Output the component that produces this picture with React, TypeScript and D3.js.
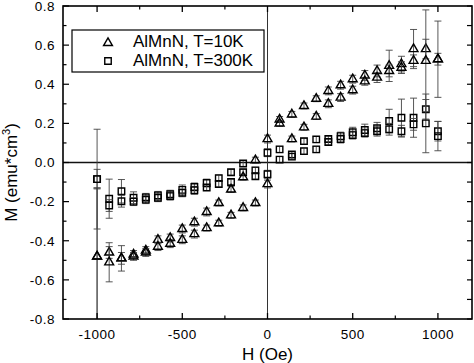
import React from 'react';
import * as d3 from 'd3';

// applied field (Oe)
const fieldOe = [
  -1000, -929, -857, -786, -714, -643, -571, -500, -429, -357, -286, -214, -143, -71, 0,
  71, 143, 214, 286, 357, 429, 500, 571, 643, 714, 786, 857, 929, 1000,
];

// T = 10K, two branches of the loop
const m10Upper = [
  -0.48, -0.46, -0.49, -0.47, -0.45, -0.395, -0.386, -0.34, -0.305, -0.253, -0.207, -0.138, -0.075, 0.012, 0.12,
  0.22, 0.246, 0.289, 0.326, 0.366, 0.395, 0.426, 0.445, 0.468, 0.494, 0.503, 0.58, 0.58, 0.528,
];
const m10Lower = [
  -0.48, -0.51, -0.49, -0.48, -0.46, -0.43, -0.415, -0.395, -0.366, -0.335, -0.31, -0.27, -0.232, -0.207, -0.11,
  0.2, 0.12, 0.18, 0.235, 0.3, 0.332, 0.37, 0.415, 0.434, 0.468, 0.485, 0.52, 0.52, 0.528,
];
const e10Upper = [
  0.35, 0.03, 0.065, 0.02, 0.02, 0.02, 0.02, 0.02, 0.02, 0.02, 0.015, 0.015, 0.015, 0.015, 0.02,
  0.015, 0.015, 0.015, 0.015, 0.02, 0.02, 0.02, 0.025, 0.03, 0.08, 0.04, 0.1, 0.05, 0.195,
];
const e10Lower = [
  0.35, 0.1, 0.03, 0.02, 0.02, 0.02, 0.02, 0.02, 0.02, 0.015, 0.015, 0.015, 0.015, 0.015, 0.02,
  0.015, 0.015, 0.015, 0.015, 0.02, 0.02, 0.02, 0.02, 0.025, 0.03, 0.03, 0.03, 0.26, 0.03,
];

// T = 300K, two branches of the loop
const m300Upper = [
  -0.085, -0.185, -0.147, -0.18, -0.178, -0.168, -0.162, -0.14, -0.125, -0.105, -0.08, -0.05, -0.005, -0.04, 0.05,
  0.067, 0.041, 0.109, 0.118, 0.12, 0.135, 0.155, 0.166, 0.175, 0.212, 0.229, 0.229, 0.272, 0.16,
];
const m300Lower = [
  -0.085, -0.22, -0.198, -0.2, -0.19, -0.18, -0.172, -0.155, -0.142, -0.128, -0.11, -0.1, -0.05, -0.07, -0.06,
  0.015, 0.03, 0.058, 0.067, 0.105, 0.12, 0.14, 0.15, 0.16, 0.17, 0.16, 0.195, 0.2, 0.135,
];
const e300Upper = [
  0.255, 0.1, 0.06, 0.03, 0.02, 0.02, 0.02, 0.025, 0.02, 0.02, 0.015, 0.015, 0.015, 0.015, 0.02,
  0.015, 0.015, 0.015, 0.015, 0.015, 0.02, 0.025, 0.03, 0.03, 0.06, 0.095, 0.1, 0.05, 0.05,
];
const e300Lower = [
  0.05, 0.03, 0.03, 0.02, 0.02, 0.02, 0.02, 0.02, 0.02, 0.015, 0.015, 0.015, 0.015, 0.015, 0.02,
  0.015, 0.015, 0.015, 0.015, 0.015, 0.02, 0.02, 0.02, 0.025, 0.03, 0.03, 0.03, 0.15, 0.075,
];

const xMajor = [-1000, -500, 0, 500, 1000];
const yMajor = [-0.8, -0.6, -0.4, -0.2, 0.0, 0.2, 0.4, 0.6, 0.8];
const legendLabels = ['AlMnN, T=10K', 'AlMnN, T=300K'];

const font = 'Arial, "Liberation Sans", Helvetica, sans-serif';

export default function App() {
  const width = 474;
  const height = 363;
  const x = d3.scaleLinear().domain([-1200, 1200]).range([63, 472]);
  const y = d3.scaleLinear().domain([-0.8, 0.8]).range([319, 6]);

  const triPath = d3.symbol().type(d3.symbolTriangle).size(34)() as string;
  const sqPath = d3.symbol().type(d3.symbolSquare).size(42)() as string;

  const xMinor = d3.range(-1000, 1001, 250).filter(v => !xMajor.includes(v));
  const yAll = d3.range(-8, 9).map(v => v / 10);

  const series = [
    { m: m300Upper, e: e300Upper, path: sqPath },
    { m: m300Lower, e: e300Lower, path: sqPath },
    { m: m10Upper, e: e10Upper, path: triPath },
    { m: m10Lower, e: e10Lower, path: triPath },
  ];

  const [x0, x1] = x.range();
  const [y0, y1] = y.range();

  return (
    <svg width={width} height={height} style={{ position: 'absolute', left: 0, top: 0, background: '#fff' }}
      fontFamily={font}>
      <defs>
        <clipPath id="plot">
          <rect x={x0} y={y1} width={x1 - x0} height={y0 - y1} />
        </clipPath>
      </defs>

      {/* zero lines */}
      <line x1={x0} x2={x1} y1={y(0)} y2={y(0)} stroke="#111" strokeWidth={1.3} />
      <line x1={x(0)} x2={x(0)} y1={y1} y2={y0} stroke="#333" strokeWidth={1} />

      {/* error bars + markers */}
      <g clipPath="url(#plot)">
        {series.map((s, si) => (
          <g key={si}>
            {fieldOe.map((h, i) => {
              const cx = x(h);
              const top = y(s.m[i] + s.e[i]);
              const bot = y(s.m[i] - s.e[i]);
              return (
                <g key={i} stroke="#444" strokeWidth={0.9}>
                  <line x1={cx} x2={cx} y1={top} y2={bot} />
                  <line x1={cx - 3.5} x2={cx + 3.5} y1={top} y2={top} />
                  <line x1={cx - 3.5} x2={cx + 3.5} y1={bot} y2={bot} />
                </g>
              );
            })}
            {fieldOe.map((h, i) => (
              <path key={'p' + i} d={s.path} transform={`translate(${x(h)},${y(s.m[i])})`}
                fill="none" stroke="#000" strokeWidth={1.4} />
            ))}
          </g>
        ))}
      </g>

      {/* frame */}
      <rect x={x0} y={y1} width={x1 - x0} height={y0 - y1} fill="none" stroke="#000" strokeWidth={1.6} />

      {/* x ticks */}
      {xMajor.map(v => (
        <g key={'xm' + v} stroke="#000" strokeWidth={1.3}>
          <line x1={x(v)} x2={x(v)} y1={y0} y2={y0 - 6} />
          <line x1={x(v)} x2={x(v)} y1={y1} y2={y1 + 6} />
        </g>
      ))}
      {xMinor.map(v => (
        <g key={'xn' + v} stroke="#000" strokeWidth={1.2}>
          <line x1={x(v)} x2={x(v)} y1={y0} y2={y0 - 3.5} />
          <line x1={x(v)} x2={x(v)} y1={y1} y2={y1 + 3.5} />
        </g>
      ))}
      {xMajor.map(v => (
        <text key={'xl' + v} x={x(v)} y={339} textAnchor="middle" fontSize={13.5} letterSpacing={0.5}>
          {String(v)}
        </text>
      ))}

      {/* y ticks */}
      {yAll.map(v => {
        const major = yMajor.some(m => Math.abs(m - v) < 1e-9);
        return (
          <g key={'y' + v} stroke="#000" strokeWidth={1.2}>
            <line x1={x0} x2={x0 + (major ? 6 : 3.5)} y1={y(v)} y2={y(v)} />
            <line x1={x1} x2={x1 - 5} y1={y(v)} y2={y(v)} />
          </g>
        );
      })}
      {yMajor.map(v => (
        <text key={'yl' + v} x={55} y={y(v)} dy="0.36em" textAnchor="end" fontSize={13.5} letterSpacing={0.5}>
          {v.toFixed(1)}
        </text>
      ))}

      {/* axis titles */}
      <text x={(x0 + x1) / 2} y={360} textAnchor="middle" fontSize={17}>H (Oe)</text>
      <text transform={`translate(17,${(y0 + y1) / 2 + 10}) rotate(-90)`} textAnchor="middle" fontSize={17}>
        M (emu*cm<tspan dy={-7} fontSize={11}>3</tspan><tspan dy={7}>)</tspan>
      </text>

      {/* legend */}
      <g>
        <rect x={72} y={30} width={192} height={42} fill="#fff" stroke="#000" strokeWidth={1.2} />
        <path d={triPath} transform="translate(108,43)" fill="none" stroke="#000" strokeWidth={1.4} />
        <path d={sqPath} transform="translate(108,61)" fill="none" stroke="#000" strokeWidth={1.4} />
        {legendLabels.map((t, i) => (
          <text key={t} x={133} y={47 + i * 18.5} fontSize={17}>{t}</text>
        ))}
      </g>
    </svg>
  );
}
